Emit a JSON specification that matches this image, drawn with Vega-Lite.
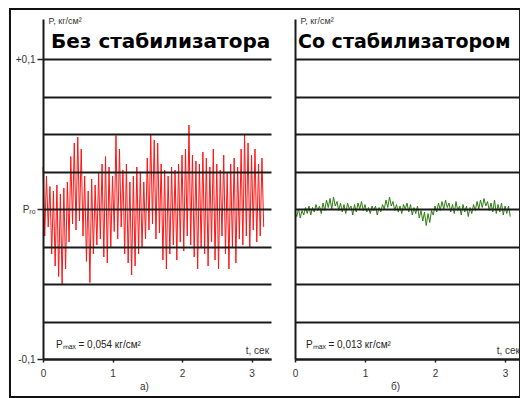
{
  "$schema": "https://vega.github.io/schema/vega-lite/v6.json",
  "padding": {"left": 8, "top": 7, "right": 0, "bottom": 0},
  "spacing": 24,
  "bounds": "flush",
  "config": {"view": {"stroke": null}, "font": "Liberation Sans"},
  "datasets": {
    "noStab": [
      {"t":0.000,"p":0.028},{"t":0.025,"p":-0.018},{"t":0.050,"p":0.022},{"t":0.075,"p":-0.012},{"t":0.100,"p":0.015},{"t":0.125,"p":-0.030},{"t":0.150,"p":0.012},{"t":0.175,"p":-0.038},{"t":0.200,"p":0.016},{"t":0.225,"p":-0.045},
      {"t":0.250,"p":0.010},{"t":0.275,"p":-0.050},{"t":0.300,"p":0.014},{"t":0.325,"p":-0.040},{"t":0.350,"p":0.018},{"t":0.375,"p":-0.022},{"t":0.400,"p":0.035},{"t":0.425,"p":-0.010},{"t":0.450,"p":0.044},{"t":0.475,"p":-0.014},
      {"t":0.500,"p":0.048},{"t":0.525,"p":-0.008},{"t":0.550,"p":0.040},{"t":0.575,"p":-0.018},{"t":0.600,"p":0.022},{"t":0.625,"p":-0.035},{"t":0.650,"p":0.012},{"t":0.675,"p":-0.049},{"t":0.700,"p":0.020},{"t":0.725,"p":-0.030},
      {"t":0.750,"p":0.016},{"t":0.775,"p":-0.024},{"t":0.800,"p":0.024},{"t":0.825,"p":-0.020},{"t":0.850,"p":0.030},{"t":0.875,"p":-0.032},{"t":0.900,"p":0.035},{"t":0.925,"p":-0.036},{"t":0.950,"p":0.028},{"t":0.975,"p":-0.026},
      {"t":1.000,"p":0.022},{"t":1.025,"p":-0.015},{"t":1.050,"p":0.049},{"t":1.075,"p":-0.020},{"t":1.100,"p":0.040},{"t":1.125,"p":-0.012},{"t":1.150,"p":0.026},{"t":1.175,"p":-0.030},{"t":1.200,"p":0.030},{"t":1.225,"p":-0.036},
      {"t":1.250,"p":0.018},{"t":1.275,"p":-0.044},{"t":1.300,"p":0.022},{"t":1.325,"p":-0.038},{"t":1.350,"p":0.028},{"t":1.375,"p":-0.030},{"t":1.400,"p":0.024},{"t":1.425,"p":-0.026},{"t":1.450,"p":0.018},{"t":1.475,"p":-0.020},
      {"t":1.500,"p":0.034},{"t":1.525,"p":-0.014},{"t":1.550,"p":0.050},{"t":1.575,"p":-0.010},{"t":1.600,"p":0.046},{"t":1.625,"p":-0.020},{"t":1.650,"p":0.044},{"t":1.675,"p":-0.016},{"t":1.700,"p":0.030},{"t":1.725,"p":-0.034},
      {"t":1.750,"p":0.026},{"t":1.775,"p":-0.040},{"t":1.800,"p":0.022},{"t":1.825,"p":-0.030},{"t":1.850,"p":0.028},{"t":1.875,"p":-0.024},{"t":1.900,"p":0.026},{"t":1.925,"p":-0.034},{"t":1.950,"p":0.030},{"t":1.975,"p":-0.022},
      {"t":2.000,"p":0.036},{"t":2.025,"p":-0.028},{"t":2.050,"p":0.040},{"t":2.075,"p":-0.018},{"t":2.100,"p":0.056},{"t":2.125,"p":-0.024},{"t":2.150,"p":0.036},{"t":2.175,"p":-0.032},{"t":2.200,"p":0.032},{"t":2.225,"p":-0.040},
      {"t":2.250,"p":0.030},{"t":2.275,"p":-0.026},{"t":2.300,"p":0.038},{"t":2.325,"p":-0.030},{"t":2.350,"p":0.034},{"t":2.375,"p":-0.038},{"t":2.400,"p":0.028},{"t":2.425,"p":-0.022},{"t":2.450,"p":0.040},{"t":2.475,"p":-0.034},
      {"t":2.500,"p":0.030},{"t":2.525,"p":-0.040},{"t":2.550,"p":0.026},{"t":2.575,"p":-0.018},{"t":2.600,"p":0.036},{"t":2.625,"p":-0.030},{"t":2.650,"p":0.024},{"t":2.675,"p":-0.040},{"t":2.700,"p":0.030},{"t":2.725,"p":-0.026},
      {"t":2.750,"p":0.034},{"t":2.775,"p":-0.036},{"t":2.800,"p":0.028},{"t":2.825,"p":-0.020},{"t":2.850,"p":0.040},{"t":2.875,"p":-0.024},{"t":2.900,"p":0.050},{"t":2.925,"p":-0.018},{"t":2.950,"p":0.044},{"t":2.975,"p":-0.026},
      {"t":3.000,"p":0.036},{"t":3.025,"p":-0.014},{"t":3.050,"p":0.040},{"t":3.075,"p":-0.022},{"t":3.100,"p":0.030},{"t":3.125,"p":-0.018},{"t":3.150,"p":0.034},{"t":3.175,"p":-0.012}
    ],
    "stab": [
      {"t":0.000,"p":-0.002},{"t":0.025,"p":-0.005},{"t":0.050,"p":0.000},{"t":0.075,"p":-0.006},{"t":0.100,"p":-0.001},{"t":0.125,"p":-0.004},{"t":0.150,"p":0.001},{"t":0.175,"p":-0.003},{"t":0.200,"p":0.002},{"t":0.225,"p":-0.004},
      {"t":0.250,"p":0.001},{"t":0.275,"p":-0.002},{"t":0.300,"p":0.003},{"t":0.325,"p":-0.001},{"t":0.350,"p":0.002},{"t":0.375,"p":-0.003},{"t":0.400,"p":0.004},{"t":0.425,"p":-0.001},{"t":0.450,"p":0.006},{"t":0.475,"p":0.001},
      {"t":0.500,"p":0.007},{"t":0.525,"p":0.000},{"t":0.550,"p":0.008},{"t":0.575,"p":0.002},{"t":0.600,"p":0.005},{"t":0.625,"p":-0.001},{"t":0.650,"p":0.004},{"t":0.675,"p":-0.002},{"t":0.700,"p":0.003},{"t":0.725,"p":-0.003},
      {"t":0.750,"p":0.004},{"t":0.775,"p":0.000},{"t":0.800,"p":0.002},{"t":0.825,"p":-0.004},{"t":0.850,"p":0.003},{"t":0.875,"p":-0.002},{"t":0.900,"p":0.004},{"t":0.925,"p":0.000},{"t":0.950,"p":0.005},{"t":0.975,"p":-0.001},
      {"t":1.000,"p":0.003},{"t":1.025,"p":-0.002},{"t":1.050,"p":0.001},{"t":1.075,"p":-0.003},{"t":1.100,"p":0.002},{"t":1.125,"p":-0.001},{"t":1.150,"p":0.002},{"t":1.175,"p":-0.004},{"t":1.200,"p":0.001},{"t":1.225,"p":-0.002},
      {"t":1.250,"p":0.003},{"t":1.275,"p":0.000},{"t":1.300,"p":0.006},{"t":1.325,"p":0.001},{"t":1.350,"p":0.008},{"t":1.375,"p":0.002},{"t":1.400,"p":0.005},{"t":1.425,"p":-0.001},{"t":1.450,"p":0.003},{"t":1.475,"p":-0.002},
      {"t":1.500,"p":0.002},{"t":1.525,"p":-0.003},{"t":1.550,"p":0.003},{"t":1.575,"p":0.000},{"t":1.600,"p":0.004},{"t":1.625,"p":-0.002},{"t":1.650,"p":0.003},{"t":1.675,"p":-0.004},{"t":1.700,"p":0.001},{"t":1.725,"p":-0.003},
      {"t":1.750,"p":0.002},{"t":1.775,"p":-0.006},{"t":1.800,"p":-0.001},{"t":1.825,"p":-0.008},{"t":1.850,"p":-0.002},{"t":1.875,"p":-0.011},{"t":1.900,"p":-0.003},{"t":1.925,"p":-0.009},{"t":1.950,"p":-0.001},{"t":1.975,"p":-0.004},
      {"t":2.000,"p":0.002},{"t":2.025,"p":-0.002},{"t":2.050,"p":0.004},{"t":2.075,"p":-0.001},{"t":2.100,"p":0.005},{"t":2.125,"p":0.000},{"t":2.150,"p":0.006},{"t":2.175,"p":0.001},{"t":2.200,"p":0.004},{"t":2.225,"p":-0.002},
      {"t":2.250,"p":0.003},{"t":2.275,"p":-0.003},{"t":2.300,"p":0.005},{"t":2.325,"p":-0.001},{"t":2.350,"p":0.002},{"t":2.375,"p":-0.004},{"t":2.400,"p":0.003},{"t":2.425,"p":-0.002},{"t":2.450,"p":0.002},{"t":2.475,"p":-0.005},
      {"t":2.500,"p":0.001},{"t":2.525,"p":-0.003},{"t":2.550,"p":0.003},{"t":2.575,"p":-0.001},{"t":2.600,"p":0.005},{"t":2.625,"p":0.000},{"t":2.650,"p":0.006},{"t":2.675,"p":0.001},{"t":2.700,"p":0.007},{"t":2.725,"p":0.002},
      {"t":2.750,"p":0.005},{"t":2.775,"p":-0.001},{"t":2.800,"p":0.004},{"t":2.825,"p":-0.002},{"t":2.850,"p":0.006},{"t":2.875,"p":-0.003},{"t":2.900,"p":0.003},{"t":2.925,"p":-0.002},{"t":2.950,"p":0.004},{"t":2.975,"p":-0.004},
      {"t":3.000,"p":0.002},{"t":3.025,"p":-0.003},{"t":3.050,"p":0.002},{"t":3.075,"p":-0.005}
    ]
  },
  "hconcat": [
    {
      "width": 228,
      "height": 340,
      "layer": [
        {
          "data": {"values": [{}]},
          "mark": {"type": "rect", "fill": null, "fillOpacity": 0, "stroke": "#111", "strokeWidth": 2, "clip": false},
          "encoding": {
            "x": {"datum": -0.475, "type": "quantitative"},
            "x2": {"datum": 6.863},
            "y": {"datum": -0.1253, "type": "quantitative"},
            "y2": {"datum": 0.1334}
          }
        },
        {
          "data": {"name": "noStab"},
          "mark": {"type": "line", "color": "#ff1414", "strokeWidth": 1},
          "encoding": {
            "x": {
              "field": "t", "type": "quantitative",
              "scale": {"domain": [0, 3.28], "nice": false, "zero": false},
              "axis": {
                "values": [0,0.125,0.25,0.375,0.5,0.625,0.75,0.875,1,1.125,1.25,1.375,1.5,1.625,1.75,1.875,2,2.125,2.25,2.375,2.5,2.625,2.75,2.875,3,3.125,3.25],
                "labelExpr": "indexof([0,1,2,3], datum.value) >= 0 ? '' + datum.value : ''",
                "labelOverlap": false, "labelFlush": false,
                "labelFontSize": 10, "labelColor": "#333", "labelPadding": 6,
                "tickSize": 3, "tickColor": "#222", "tickWidth": 1.5,
                "domainColor": "#1a1a1a", "domainWidth": 2,
                "grid": false,
                "title": "а)", "titleX": 101, "titleY": 30, "titleBaseline": "alphabetic",
                "titleFontSize": 10, "titleFontWeight": "normal", "titleColor": "#333",
                "zindex": 1
              }
            },
            "y": {
              "field": "p", "type": "quantitative",
              "scale": {"domain": [-0.1, 0.1267], "nice": false, "zero": false},
              "axis": {
                "values": [-0.1,-0.075,-0.05,-0.025,0,0.025,0.05,0.075,0.1],
                "labelExpr": "datum.value == 0.1 ? '+0,1' : datum.value == -0.1 ? '-0,1' : datum.value == 0 ? 'Pᵣₒ' : ''",
                "labelOverlap": false, "labelFlush": false,
                "labelFontSize": 10, "labelColor": "#333", "labelPadding": 2,
                "tickSize": 6, "tickWidth": 1.5,
                "tickColor": {"condition": {"test": "datum.value == 0 || abs(datum.value) > 0.09", "value": "#222"}, "value": "transparent"},
                "grid": true, "gridColor": "#1a1a1a", "gridWidth": 2,
                "domainColor": "#1a1a1a", "domainWidth": 2,
                "title": "P, кг/см²", "titleAngle": 0, "titleX": 5, "titleY": 4,
                "titleAlign": "left", "titleBaseline": "alphabetic",
                "titleFontSize": 9, "titleFontWeight": "normal", "titleColor": "#333",
                "zindex": 1
              }
            }
          }
        },
        {
          "data": {"values": [{}]},
          "mark": {"type": "text", "text": "Без стабилизатора", "font": "DejaVu Sans", "fontWeight": "bold", "fontSize": 20, "align": "left", "baseline": "alphabetic", "color": "#000"},
          "encoding": {"x": {"datum": 0.115, "type": "quantitative"}, "y": {"datum": 0.1073, "type": "quantitative"}}
        },
        {
          "data": {"values": [{}]},
          "mark": {"type": "text", "text": "Pₘₐₓ = 0,054 кг/см²", "fontSize": 10, "align": "left", "baseline": "alphabetic", "color": "#222"},
          "encoding": {"x": {"datum": 0.187, "type": "quantitative"}, "y": {"datum": -0.0927, "type": "quantitative"}}
        },
        {
          "data": {"values": [{}]},
          "mark": {"type": "text", "text": "t, сек", "fontSize": 10, "align": "right", "baseline": "alphabetic", "color": "#333", "dy": -5},
          "encoding": {"x": {"datum": 3.252, "type": "quantitative"}, "y": {"datum": -0.1, "type": "quantitative"}}
        }
      ]
    },
    {
      "width": 225,
      "height": 340,
      "layer": [
        {
          "data": {"name": "stab"},
          "mark": {"type": "line", "color": "#2f7d12", "strokeWidth": 1},
          "encoding": {
            "x": {
              "field": "t", "type": "quantitative",
              "scale": {"domain": [0, 3.214], "nice": false, "zero": false},
              "axis": {
                "values": [0,0.125,0.25,0.375,0.5,0.625,0.75,0.875,1,1.125,1.25,1.375,1.5,1.625,1.75,1.875,2,2.125,2.25,2.375,2.5,2.625,2.75,2.875,3,3.125],
                "labelExpr": "indexof([0,1,2,3], datum.value) >= 0 ? '' + datum.value : ''",
                "labelOverlap": false, "labelFlush": false,
                "labelFontSize": 10, "labelColor": "#333", "labelPadding": 6,
                "tickSize": 3, "tickColor": "#222", "tickWidth": 1.5,
                "domainColor": "#1a1a1a", "domainWidth": 2,
                "grid": false,
                "title": "б)", "titleX": 100, "titleY": 30, "titleBaseline": "alphabetic",
                "titleFontSize": 10, "titleFontWeight": "normal", "titleColor": "#333",
                "zindex": 1
              }
            },
            "y": {
              "field": "p", "type": "quantitative",
              "scale": {"domain": [-0.1, 0.1267], "nice": false, "zero": false},
              "axis": {
                "values": [-0.1,-0.075,-0.05,-0.025,0,0.025,0.05,0.075,0.1],
                "labels": false, "ticks": false,
                "grid": true, "gridColor": "#1a1a1a", "gridWidth": 2,
                "domainColor": "#1a1a1a", "domainWidth": 2,
                "title": "P, кг/см²", "titleAngle": 0, "titleX": 5, "titleY": 4,
                "titleAlign": "left", "titleBaseline": "alphabetic",
                "titleFontSize": 9, "titleFontWeight": "normal", "titleColor": "#333",
                "zindex": 1
              }
            }
          }
        },
        {
          "data": {"values": [{}]},
          "mark": {"type": "text", "text": "Со стабилизатором", "font": "DejaVu Sans", "fontWeight": "bold", "fontSize": 19, "align": "left", "baseline": "alphabetic", "color": "#000"},
          "encoding": {"x": {"datum": 0.043, "type": "quantitative"}, "y": {"datum": 0.1073, "type": "quantitative"}}
        },
        {
          "data": {"values": [{}]},
          "mark": {"type": "text", "text": "Pₘₐₓ = 0,013 кг/см²", "fontSize": 10, "align": "left", "baseline": "alphabetic", "color": "#222"},
          "encoding": {"x": {"datum": 0.157, "type": "quantitative"}, "y": {"datum": -0.0927, "type": "quantitative"}}
        },
        {
          "data": {"values": [{}]},
          "mark": {"type": "text", "text": "t, сек", "fontSize": 10, "align": "right", "baseline": "alphabetic", "color": "#333", "dy": -5},
          "encoding": {"x": {"datum": 3.214, "type": "quantitative"}, "y": {"datum": -0.1, "type": "quantitative"}}
        }
      ]
    }
  ]
}
